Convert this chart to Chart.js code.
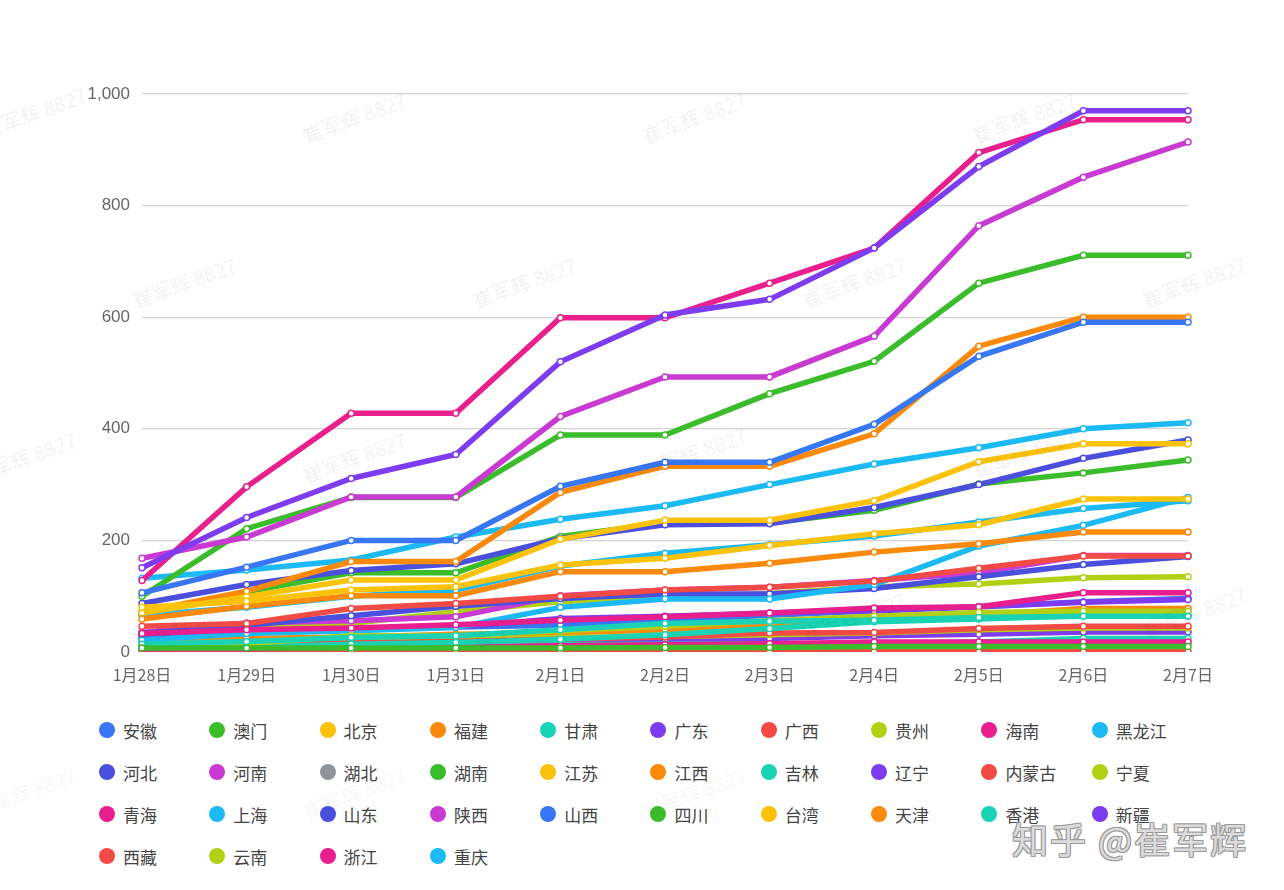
<!DOCTYPE html>
<html>
<head>
<meta charset="utf-8">
<script src="https://cdn.jsdelivr.net/npm/chart.js@4"></script>
<style>
  body { margin: 0; background: #fff; font-family: "Noto Sans CJK SC", "Noto Sans", sans-serif; }
  #wrap { position: relative; width: 1284px; height: 890px; overflow: hidden; }
  #chartBox { position: absolute; left: 0; top: 0; width: 1284px; height: 700px; }
  #legend { position: absolute; left: 99px; top: 709px; display: grid; grid-template-columns: repeat(10, 110.3px); grid-auto-rows: 42px; }
  .item { display: flex; align-items: center; font-size: 17px; color: #444; }
  .dot { width: 16px; height: 16px; border-radius: 50%; margin-right: 8px; }
  .wm { position: absolute; font-size: 20px; color: rgba(0,0,0,0.055); transform: rotate(-20deg); white-space: nowrap; pointer-events: none; }
  #zhihu { position: absolute; left: 1012px; top: 812px; font-size: 36px; color: #dcdcdc; letter-spacing: 2px;
           text-shadow: -1px -1px 0 #999, 1px -1px 0 #999, -1px 1px 0 #999, 1px 1px 0 #999; }
</style>
</head>
<body>
<div id="wrap">
  <div id="chartBox"><canvas id="trendChart"></canvas></div>
  <div id="legend"></div>
  <div id="marks"></div>
  <div id="zhihu">知乎 @崔军辉</div>
</div>
<script>
// Dates on the x axis
const dates = ['1月28日', '1月29日', '1月30日', '1月31日', '2月1日', '2月2日', '2月3日', '2月4日', '2月5日', '2月6日', '2月7日'];
const yTicks = [0, 200, 400, 600, 800, 1000];

// Province names (legend order)
const provinces = ['安徽', '澳门', '北京', '福建', '甘肃', '广东', '广西', '贵州', '海南', '黑龙江',
  '河北', '河南', '湖北', '湖南', '江苏', '江西', '吉林', '辽宁', '内蒙古', '宁夏',
  '青海', '上海', '山东', '陕西', '山西', '四川', '台湾', '天津', '香港', '新疆',
  '西藏', '云南', '浙江', '重庆'];

// Cumulative cases per province
const anhui = [106, 152, 200, 200, 297, 340, 340, 408, 530, 591, 591];
const aomen = [7, 7, 7, 7, 7, 8, 8, 10, 10, 10, 10];
const beijing = [80, 91, 111, 117, 156, 168, 191, 212, 228, 274, 274];
const fujian = [59, 82, 101, 101, 144, 144, 159, 179, 194, 215, 215];
const gansu = [14, 19, 26, 29, 40, 51, 55, 57, 62, 64, 64];
const guangdong = [151, 241, 311, 354, 520, 604, 632, 724, 870, 970, 970];
const guangxi = [46, 51, 78, 87, 100, 111, 116, 127, 150, 172, 172];
const guizhou = [12, 15, 29, 29, 38, 46, 56, 64, 71, 73, 73];
const hainan = [33, 40, 43, 49, 57, 63, 70, 79, 81, 106, 106];
const heilongjiang = [21, 33, 38, 44, 80, 95, 95, 121, 190, 227, 277];
const hebei = [33, 48, 65, 82, 96, 104, 104, 114, 135, 157, 171];
const henan = [168, 206, 278, 278, 422, 493, 493, 566, 764, 851, 914];
const hubei = [];
const hunan = [100, 221, 277, 277, 389, 389, 463, 521, 661, 711, 711];
const jiangsu = [70, 99, 129, 129, 202, 236, 236, 271, 341, 373, 373];
const jiangxi = [72, 109, 162, 162, 286, 333, 333, 391, 548, 600, 600];
const jilin = [8, 9, 14, 17, 23, 31, 42, 54, 59, 65, 65];
const liaoning = [34, 39, 41, 45, 60, 64, 70, 74, 81, 89, 94];
const neimenggu = [11, 15, 16, 19, 23, 27, 34, 35, 42, 46, 46];
const ningxia = [11, 12, 17, 21, 26, 28, 31, 34, 40, 43, 43];
const qinghai = [6, 6, 8, 9, 11, 13, 15, 18, 18, 18, 18];
const shanghai = [66, 80, 100, 111, 154, 177, 192, 208, 233, 257, 271];
const shandong = [87, 121, 146, 158, 203, 228, 230, 259, 300, 347, 380];
const shaanxi = [35, 52, 56, 63, 101, 111, 116, 128, 142, 173, 173];
const shanxi = [27, 35, 39, 45, 48, 57, 66, 74, 81, 90, 96];
const sichuan = [69, 108, 142, 142, 207, 231, 231, 254, 301, 321, 344];
const taiwan = [7, 8, 8, 9, 10, 10, 10, 11, 11, 16, 16];
const tianjin = [23, 24, 27, 32, 34, 40, 47, 61, 66, 78, 78];
const xianggang = [8, 8, 10, 12, 13, 14, 15, 15, 18, 24, 24];
const xinjiang = [10, 13, 14, 17, 18, 21, 24, 29, 32, 36, 36];
const xizang = [0, 0, 0, 1, 1, 1, 1, 1, 1, 1, 1];
const yunnan = [27, 44, 51, 72, 90, 96, 105, 117, 122, 133, 135];
const zhejiang = [128, 296, 428, 428, 599, 599, 661, 724, 895, 954, 954];
const chongqing = [132, 147, 165, 206, 238, 262, 300, 337, 366, 400, 411];

const seriesValues = [anhui, aomen, beijing, fujian, gansu, guangdong, guangxi, guizhou, hainan, heilongjiang,
  hebei, henan, hubei, hunan, jiangsu, jiangxi, jilin, liaoning, neimenggu, ningxia,
  qinghai, shanghai, shandong, shaanxi, shanxi, sichuan, taiwan, tianjin, xianggang, xinjiang,
  xizang, yunnan, zhejiang, chongqing];

// Colour cycle (湖北 is grey)
const palette = ['#3776f5', '#3bbd2b', '#fbc20a', '#fb8a0c', '#19d3b4', '#7d3cf0',
  '#f24a45', '#b2d014', '#e81f8c', '#1cbaf5', '#4a4fde', '#c93ad3'];
const hubeiColor = '#8f949d';

const datasets = provinces.map((name, i) => {
  const color = name === '湖北' ? hubeiColor : palette[i % 12];
  return {
    label: name,
    data: seriesValues[i],
    borderColor: color,
    backgroundColor: color,
    borderWidth: 5.5,
    tension: 0,
    pointRadius: 3,
    pointBorderWidth: 1.5,
    pointBackgroundColor: '#fff',
    pointBorderColor: color,
    fill: false
  };
});

// Chart
const ctx = document.getElementById('trendChart').getContext('2d');
const chart = new Chart(ctx, {
  type: 'line',
  data: { labels: dates, datasets: datasets },
  options: {
    responsive: true,
    maintainAspectRatio: false,
    animation: false,
    layout: { padding: { top: 94, right: 96, left: 0, bottom: 0 } },
    plugins: { legend: { display: false }, tooltip: { enabled: false } },
    scales: {
      x: {
        offset: false,
        grid: { display: false },
        border: { display: false },
        ticks: { color: '#666', font: { size: 16, family: '"Noto Sans CJK SC", sans-serif' }, padding: 5, maxRotation: 0 },
        afterFit: s => { s.height = 48; }
      },
      y: {
        min: 0,
        max: 1000,
        afterBuildTicks: s => { s.ticks = yTicks.map(v => ({ value: v })); },
        grid: { color: '#d4d4d4', lineWidth: 1.2, drawTicks: false },
        border: { display: false },
        ticks: { color: '#666', font: { size: 17, family: 'Liberation Sans, Arial, sans-serif' }, padding: 12 },
        afterFit: s => { s.width = 142; }
      }
    }
  }
});

// HTML legend in a fixed grid
const legendBox = document.getElementById('legend');
chart.data.datasets.forEach(ds => {
  const item = document.createElement('div');
  item.className = 'item';
  item.innerHTML = '<span class="dot" style="background:' + ds.borderColor + '"></span>' + ds.label;
  legendBox.appendChild(item);
});

// Faint watermarks
const markSpots = [[40, 110], [360, 115], [700, 115], [1030, 115],
  [190, 280], [530, 280], [860, 280], [1200, 280],
  [30, 455], [360, 455], [700, 450], [1030, 450],
  [190, 620], [530, 620], [860, 615], [1200, 610],
  [30, 790], [360, 790], [700, 790]];
const marks = document.getElementById('marks');
markSpots.forEach(p => {
  const s = document.createElement('span');
  s.className = 'wm';
  s.textContent = '崔军辉 8827';
  s.style.left = (p[0] - 60) + 'px';
  s.style.top = (p[1] - 12) + 'px';
  marks.appendChild(s);
});
</script>
</body>
</html>
